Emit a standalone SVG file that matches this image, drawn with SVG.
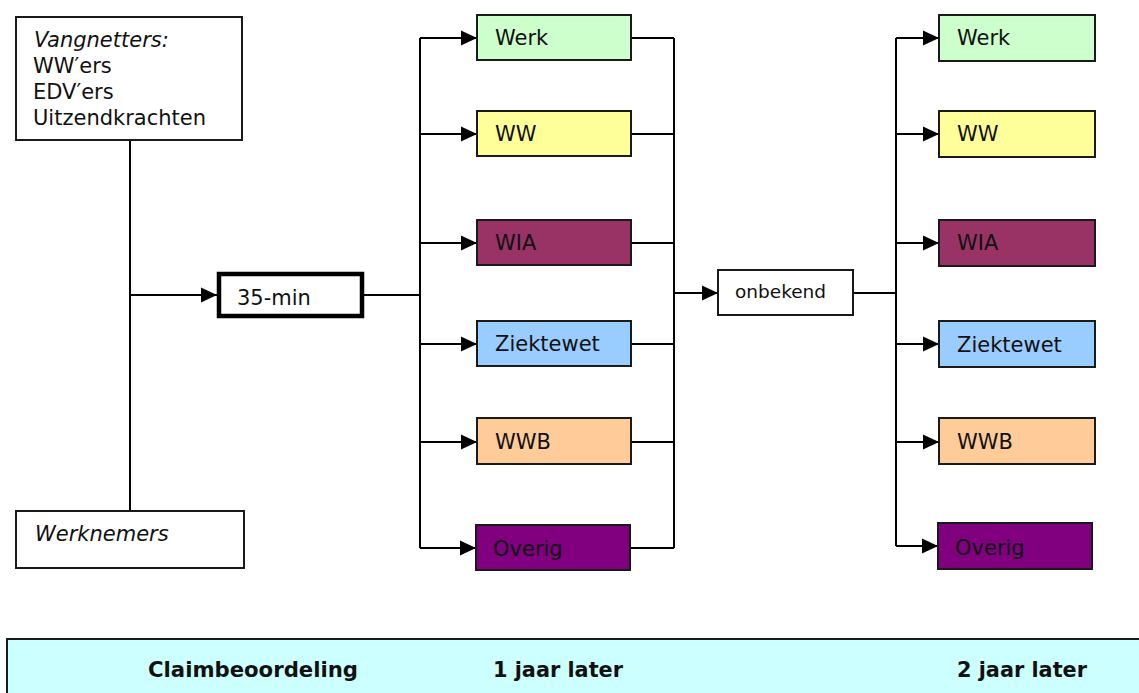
<svg xmlns="http://www.w3.org/2000/svg" width="1139" height="693" viewBox="0 0 1139 693">
<style>
.box{stroke:#1a1a1a;stroke-width:2}
.t{font-family:"DejaVu Sans",Verdana,sans-serif;font-size:21px;fill:#111}
.it{font-style:italic}
.b{font-family:"DejaVu Sans",Verdana,sans-serif;font-size:21px;font-weight:bold;fill:#111}
.c{fill:none;stroke:#000;stroke-width:2}
</style>
<defs>
<marker id="ah" markerUnits="userSpaceOnUse" markerWidth="16" markerHeight="16" refX="16" refY="7.5" orient="auto" viewBox="0 0 16 15">
<path d="M0,0 L16,7.5 L0,15 Z" fill="#000"/>
</marker>
</defs>
<rect x="0" y="0" width="1139" height="693" fill="#fff"/>

<g id="connectors">
<line class="c" x1="130" y1="140" x2="130" y2="511"/>
<line class="c" x1="130" y1="295" x2="217" y2="295" marker-end="url(#ah)"/>
<line class="c" x1="364" y1="295" x2="420" y2="295"/>
<line class="c" x1="420" y1="38" x2="420" y2="548"/>
<line class="c" x1="420" y1="38" x2="477" y2="38" marker-end="url(#ah)"/>
<line class="c" x1="420" y1="134" x2="477" y2="134" marker-end="url(#ah)"/>
<line class="c" x1="420" y1="243" x2="477" y2="243" marker-end="url(#ah)"/>
<line class="c" x1="420" y1="344" x2="477" y2="344" marker-end="url(#ah)"/>
<line class="c" x1="420" y1="442" x2="477" y2="442" marker-end="url(#ah)"/>
<line class="c" x1="420" y1="548" x2="476" y2="548" marker-end="url(#ah)"/>
<line class="c" x1="631" y1="38" x2="674" y2="38"/>
<line class="c" x1="631" y1="134" x2="674" y2="134"/>
<line class="c" x1="631" y1="243" x2="674" y2="243"/>
<line class="c" x1="631" y1="344" x2="674" y2="344"/>
<line class="c" x1="631" y1="442" x2="674" y2="442"/>
<line class="c" x1="630" y1="548" x2="674" y2="548"/>
<line class="c" x1="674" y1="38" x2="674" y2="548"/>
<line class="c" x1="674" y1="293" x2="718" y2="293" marker-end="url(#ah)"/>
<line class="c" x1="853" y1="293" x2="896" y2="293"/>
<line class="c" x1="896" y1="38" x2="896" y2="546"/>
<line class="c" x1="896" y1="38" x2="939" y2="38" marker-end="url(#ah)"/>
<line class="c" x1="896" y1="134" x2="939" y2="134" marker-end="url(#ah)"/>
<line class="c" x1="896" y1="243" x2="939" y2="243" marker-end="url(#ah)"/>
<line class="c" x1="896" y1="344" x2="939" y2="344" marker-end="url(#ah)"/>
<line class="c" x1="896" y1="442" x2="939" y2="442" marker-end="url(#ah)"/>
<line class="c" x1="896" y1="546" x2="938" y2="546" marker-end="url(#ah)"/>
</g>

<g id="vangnetters">
<rect class="box" x="16" y="17" width="226" height="123" fill="#fff"/>
<text class="t it" x="34" y="47">Vangnetters:</text>
<text class="t" x="33" y="73">WW′ers</text>
<text class="t" x="33" y="99">EDV′ers</text>
<text class="t" x="33" y="125">Uitzendkrachten</text>
</g>

<g id="werknemers">
<rect class="box" x="16" y="511" width="228" height="57" fill="#fff"/>
<text class="t it" x="35" y="541">Werknemers</text>
</g>

<g id="min35">
<rect x="219" y="274" width="143" height="42" fill="#fff" stroke="#000" stroke-width="4.5"/>
<text class="t" x="237" y="305">35-min</text>
</g>

<g id="werk1"><rect class="box" x="477" y="15" width="154" height="45" fill="#CCFFCC"/><text class="t" x="495" y="45">Werk</text></g>
<g id="ww1"><rect class="box" x="477" y="111" width="154" height="45" fill="#FFFF99"/><text class="t" x="495" y="141">WW</text></g>
<g id="wia1"><rect class="box" x="477" y="220" width="154" height="45" fill="#993366"/><text class="t" x="495" y="250">WIA</text></g>
<g id="ziektewet1"><rect class="box" x="477" y="321" width="154" height="45" fill="#99CCFF"/><text class="t" x="495" y="351">Ziektewet</text></g>
<g id="wwb1"><rect class="box" x="477" y="418" width="154" height="46" fill="#FFCC99"/><text class="t" x="495" y="449">WWB</text></g>
<g id="overig1"><rect class="box" x="476" y="525" width="154" height="45" fill="#800080"/><text class="t" x="493" y="556">Overig</text></g>

<g id="onbekend">
<rect class="box" x="718" y="270" width="135" height="45" fill="#fff"/>
<text class="t" x="735" y="298" style="font-size:18.5px">onbekend</text>
</g>

<g id="werk2"><rect class="box" x="939" y="15" width="156" height="46" fill="#CCFFCC"/><text class="t" x="957" y="45">Werk</text></g>
<g id="ww2"><rect class="box" x="939" y="111" width="156" height="46" fill="#FFFF99"/><text class="t" x="957" y="141">WW</text></g>
<g id="wia2"><rect class="box" x="939" y="220" width="156" height="46" fill="#993366"/><text class="t" x="957" y="250">WIA</text></g>
<g id="ziektewet2"><rect class="box" x="939" y="321" width="156" height="46" fill="#99CCFF"/><text class="t" x="957" y="352">Ziektewet</text></g>
<g id="wwb2"><rect class="box" x="939" y="418" width="156" height="46" fill="#FFCC99"/><text class="t" x="957" y="449">WWB</text></g>
<g id="overig2"><rect class="box" x="938" y="523" width="154" height="46" fill="#800080"/><text class="t" x="955" y="555">Overig</text></g>

<g id="timeline">
<rect x="7" y="639" width="1140" height="60" fill="#CCFFFF" stroke="#1a1a1a" stroke-width="2"/>
<text class="b" x="148" y="677" textLength="210" lengthAdjust="spacingAndGlyphs">Claimbeoordeling</text>
<text class="b" x="493" y="677" textLength="130" lengthAdjust="spacingAndGlyphs">1 jaar later</text>
<text class="b" x="957" y="677" textLength="130" lengthAdjust="spacingAndGlyphs">2 jaar later</text>
</g>
</svg>
